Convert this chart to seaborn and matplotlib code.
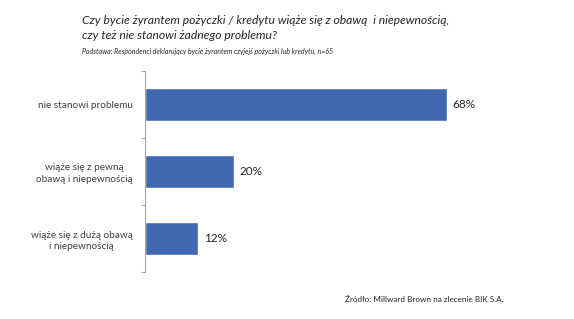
import matplotlib
matplotlib.use("Agg")
import matplotlib.pyplot as plt
import seaborn as sns
import pandas as pd

categories = ["nie stanowi problemu",
              "wiąże się z pewną\nobawą i niepewnością",
              "wiąże się z dużą obawą\ni niepewnością"]
values = [68, 20, 12]
value_labels = ["68%", "20%", "12%"]

title = "Czy bycie żyrantem pożyczki / kredytu wiąże się z obawą  i niepewnością,\nczy też nie stanowi żadnego problemu?"
subtitle = "Podstawa: Respondenci deklarujący bycie żyrantem czyjejś pożyczki lub kredytu, n=65"
source = "Źródło: Millward Brown na zlecenie BIK S.A."

df = pd.DataFrame({"cat": categories, "val": values})

sns.set_theme(style="white")
plt.rcParams['font.family'] = ['Lato', 'DejaVu Sans']

W, H = 574, 319
fig = plt.figure(figsize=(W / 100, H / 100), dpi=100)
x0, x1 = 145, 145 + 80 * 4.437
y0, y1 = 71, 272
ax = fig.add_axes([x0 / W, 1 - y1 / H, (x1 - x0) / W, (y1 - y0) / H])

sns.barplot(data=df, y="cat", x="val", orient="h", color="#4169B2",
            saturation=1, width=0.5, ax=ax)
ax.set_xlim(0, 80)
ax.set_ylim(2.5, -0.5)
ax.set_xlabel("")
ax.set_ylabel("")
ax.set_xticks([])
ax.set_yticks([-0.5, 0.5, 1.5, 2.5], minor=False)
ax.set_yticklabels([])
ax.set_yticks([0, 1, 2], minor=True)
ax.set_yticklabels(categories, minor=True, fontsize=7.2, color="#404040",
                   ha="right", multialignment="center", linespacing=1.3)
ax.tick_params(axis="y", which="major", length=3, width=0.8, color="#A6A6A6", left=True)
ax.tick_params(axis="y", which="minor", length=0, pad=9)
for sp in ["top", "right", "bottom"]:
    ax.spines[sp].set_visible(False)
ax.spines["left"].set_color("#A6A6A6")
ax.spines["left"].set_linewidth(0.8)

for i, (v, lab) in enumerate(zip(values, value_labels)):
    ax.text(v + 1.3, i, lab, va="center", ha="left", fontsize=8.5, color="#262626")

fig.text(82 / W, 1 - 15 / H, title, fontsize=8.7, style="italic", color="#262626",
         va="top", ha="left", linespacing=1.45)
fig.text(82 / W, 1 - 51 / H, subtitle, fontsize=5, style="italic", color="#262626",
         va="center", ha="left")
fig.text(345 / W, 1 - 300 / H, source, fontsize=5.9, color="#262626",
         va="center", ha="left")

fig.savefig("out.png", dpi=100)
